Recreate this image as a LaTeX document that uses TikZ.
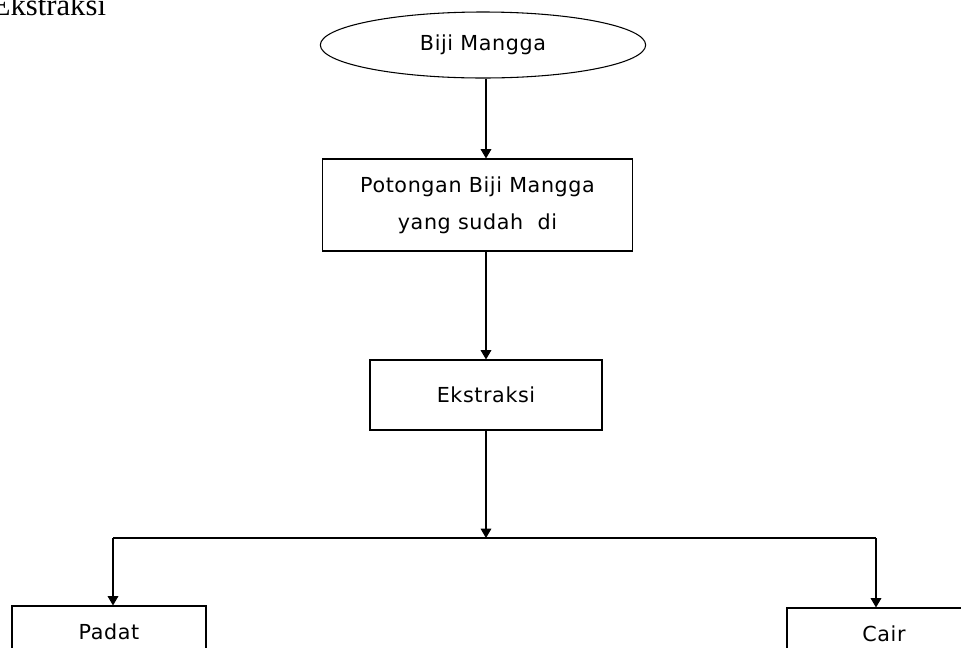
\documentclass[tikz,border=0pt]{standalone}
\usepackage{fontspec}
\setmainfont{DejaVu Sans}[LetterSpace=3]
\newfontfamily\judulfont{Liberation Serif}
\usepackage{tikz}
\usetikzlibrary{shapes, arrows.meta, positioning, shapes.geometric, calc}

\begin{document}
\begin{tikzpicture}[x=0.75pt, y=-0.75pt, font=\fontsize{15.5}{27.75}\selectfont, line width=0.8pt, >={Triangle[length=7pt, width=8pt]}]
    \tikzstyle{terminal} = [draw, ellipse, inner sep=0pt, minimum width=244pt, minimum height=49.5pt]
    \tikzstyle{proses} = [draw, rectangle, align=center, inner sep=0pt]

    \path[use as bounding box, clip] (0,0) rectangle (961,647);

    \node[anchor=base east, font=\judulfont\fontsize{23}{28}\selectfont] (judul) at (111, 15) {Ekstraksi};

    \node[terminal] (biji) at (483, 45) {Biji Mangga};
    \node[proses, minimum width=233pt, minimum height=69pt] (potong) at (477.5, 205) {Potongan Biji Mangga\\ yang sudah\ \ di};
    \node[proses, minimum width=174pt, minimum height=52.5pt] (ekstrak) at (486, 395) {Ekstraksi};
    \node[proses, minimum width=145.5pt, minimum height=39pt] (padat) at (109, 632) {Padat};
    \node[proses, minimum width=145.5pt, minimum height=39pt] (cair) at (884, 634) {Cair};

    \coordinate (cabang) at (486, 538);
    \coordinate (kiri) at (113, 538);
    \coordinate (kanan) at (876, 538);

    \draw[->] (ekstrak.north |- biji.south) -- (ekstrak.north |- potong.north);
    \draw[->] (ekstrak.north |- potong.south) -- (ekstrak.north);
    \draw[->] (ekstrak.south) -- (cabang);
    \draw (kiri) -- (kanan);
    \draw[->] (kiri) -- (kiri |- padat.north);
    \draw[->] (kanan) -- (kanan |- cair.north);
\end{tikzpicture}
\end{document}
